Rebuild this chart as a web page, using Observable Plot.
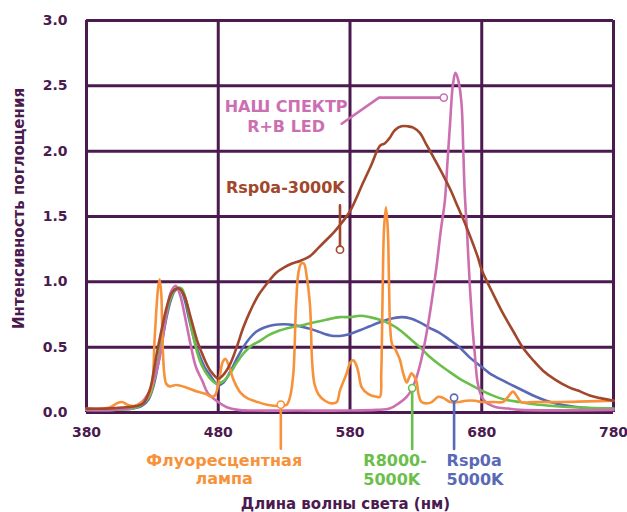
<!DOCTYPE html>
<html><head><meta charset="utf-8">
<script src="https://cdn.jsdelivr.net/npm/d3@7"></script>
<script src="https://cdn.jsdelivr.net/npm/@observablehq/plot@0.6"></script>
<style>body{margin:0;background:#fff}</style>
</head><body><div id="chart"></div>
<script>
const xTicks = [380, 480, 580, 680, 780];
const yTicks = [0, 0.5, 1, 1.5, 2, 2.5, 3];
const xTitle = "Длина волны света (нм)";
const yTitle = "Интенсивность поглощения";

// [wavelength nm, intensity]
const fluorescent = [[380,0.03],[390,0.03],[398,0.04],[403,0.07],[407,0.08],[411,0.06],[416,0.05],[421,0.07],[426,0.11],[429.5,0.2],[431.8,0.58],[434.3,0.95],[435.5,1.02],[436.8,0.9],[437.6,0.58],[439,0.3],[440.5,0.22],[443,0.2],[448,0.21],[456,0.19],[464,0.16],[471,0.14],[475,0.12],[477.5,0.13],[479.5,0.19],[481.5,0.3],[483.5,0.39],[485.5,0.41],[488,0.36],[492,0.24],[497,0.15],[502,0.11],[510,0.08],[517,0.06],[527,0.05],[532,0.06],[534.5,0.12],[537,0.3],[539,0.81],[541,1.08],[543,1.14],[545,1.14],[547,1.05],[549.7,0.81],[551.2,0.4],[553,0.22],[556,0.14],[561,0.09],[566,0.07],[570,0.08],[572.4,0.17],[577.5,0.3],[580,0.38],[582.5,0.4],[584.5,0.37],[586.3,0.31],[589,0.19],[594,0.14],[600,0.12],[602.7,0.12],[603.7,0.3],[604.3,0.6],[604.9,1.0],[605.8,1.4],[607.3,1.57],[608.7,1.4],[609.6,1.0],[610.5,0.65],[612,0.52],[614,0.49],[616,0.45],[618,0.4],[620.4,0.3],[623,0.23],[625,0.27],[626.7,0.3],[628.5,0.28],[630.5,0.24],[632,0.14],[634.3,0.08],[638,0.07],[642,0.08],[647,0.12],[651,0.11],[656,0.08],[662,0.08],[668,0.09],[675,0.09],[680,0.08],[690,0.08],[696,0.08],[700,0.12],[703.7,0.16],[707,0.12],[710,0.08],[720,0.08],[740,0.08],[760,0.085],[780,0.09]];

const rsp3000 = [[380,0.03],[395,0.03],[410,0.04],[418,0.05],[423,0.07],[428,0.17],[433.5,0.46],[438,0.68],[441,0.81],[445,0.92],[450,0.95],[454,0.9],[459,0.73],[464,0.55],[469,0.42],[474,0.32],[480,0.26],[484,0.29],[489,0.37],[494,0.5],[499,0.65],[504,0.77],[510,0.89],[518,1.0],[524,1.07],[530,1.11],[536,1.14],[542,1.16],[550,1.2],[556,1.26],[562,1.32],[567,1.37],[572,1.43],[580,1.54],[590,1.76],[596,1.89],[602.7,2.04],[606.5,2.06],[610,2.1],[614,2.16],[619,2.19],[624,2.19],[628,2.18],[633,2.14],[638,2.05],[643,1.96],[650,1.83],[656,1.71],[662,1.57],[668,1.43],[677,1.19],[680,1.09],[688,0.92],[696,0.76],[704,0.62],[711,0.5],[719,0.4],[726.5,0.32],[736,0.25],[746.7,0.19],[755,0.16],[762,0.13],[770,0.11],[780,0.09]];

const ourLed = [[380,0.02],[400,0.02],[415,0.04],[422,0.08],[429,0.19],[435.5,0.42],[440.6,0.76],[444,0.92],[447.7,0.97],[451,0.9],[455,0.72],[459,0.52],[463,0.35],[468,0.24],[472,0.15],[480,0.08],[486.5,0.04],[495,0.02],[507,0.015],[540,0.015],[580,0.015],[600,0.02],[610,0.03],[617,0.07],[623,0.12],[627,0.18],[630.5,0.27],[634,0.4],[638,0.6],[642,0.85],[645.7,1.12],[649,1.4],[652,1.62],[654,1.92],[656,2.22],[658,2.5],[660,2.6],[662,2.55],[664.6,2.37],[666,2.0],[667,1.7],[669,1.35],[671,0.96],[673,0.65],[674.7,0.45],[677,0.22],[680,0.12],[682,0.09],[686,0.06],[691,0.04],[700,0.03],[709,0.02],[780,0.02]];

const r8000 = [[380,0.02],[400,0.02],[415,0.03],[422,0.06],[428,0.13],[432,0.28],[436,0.5],[440,0.72],[444,0.88],[448,0.95],[452,0.95],[456,0.84],[460,0.63],[464,0.46],[468,0.35],[473,0.27],[479,0.22],[484,0.24],[489,0.3],[494,0.38],[499,0.45],[505,0.51],[512,0.55],[518,0.59],[524.5,0.62],[535,0.65],[544.6,0.67],[553,0.69],[562,0.71],[572,0.73],[580,0.73],[587.6,0.74],[595,0.73],[602.7,0.71],[610,0.68],[618,0.63],[625,0.57],[633,0.5],[640,0.43],[648,0.365],[655,0.315],[663,0.26],[671,0.215],[678.5,0.175],[686,0.14],[697,0.1],[709,0.08],[720,0.063],[734,0.05],[750,0.04],[765,0.035],[780,0.03]];

const rsp5000 = [[380,0.02],[400,0.02],[415,0.03],[422,0.05],[427,0.1],[430.5,0.19],[434,0.35],[438,0.58],[441,0.74],[444,0.86],[447,0.93],[450.7,0.95],[454,0.88],[458,0.71],[462,0.55],[466,0.43],[470,0.34],[473.5,0.29],[480,0.21],[484,0.23],[489,0.31],[494,0.41],[499,0.5],[504,0.57],[509,0.62],[515,0.65],[522,0.67],[530,0.675],[537,0.67],[544,0.655],[550,0.64],[557,0.615],[565,0.59],[570,0.585],[575,0.59],[581,0.605],[587.6,0.63],[595,0.66],[602.7,0.69],[610,0.715],[619,0.73],[626,0.72],[633,0.69],[640,0.65],[648,0.61],[655,0.56],[663,0.5],[671,0.42],[678.5,0.36],[686,0.3],[697,0.24],[709,0.18],[719,0.13],[729,0.09],[738,0.065],[746.7,0.05],[760,0.035],[780,0.03]];

// annotation labels and leader anchors (data coordinates); the last point of each leader carries the circle
const labelText = ["НАШ СПЕКТР\nR+B LED", "Rsp0a-3000K", "Флуоресцентная\nлампа", "R8000-\n5000K", "Rsp0a\n5000K"];
const labelX = [531.5, 530.9, 484.5, 590.1, 653.3];
const labelY = [2.148, 1.677, -0.546, -0.556, -0.556];
const labelAnchor = ["middle", "middle", "middle", "start", "start"];
const labelLineHeight = [1.23, 1.2, 1.13, 1.2, 1.2];
const leaderPink = [[573.7, 2.21], [602, 2.41], [651.2, 2.41]];
const leaderBrown = [[572.4, 1.585], [572.4, 1.246]];
const leaderOrange = [[527.5, -0.277], [527.5, 0.06]];
const leaderGreen = [[627.2, -0.279], [627.2, 0.187]];
const leaderBlue = [[659, -0.279], [659, 0.113]];

const C = {grid: "#4b1a4f", orange: "#f7923a", pink: "#cc6fb1", brown: "#a1472b", green: "#6abf4b", blue: "#5a69b5"};
const labelColor = [C.pink, C.brown, C.orange, C.green, C.blue];

const curve = (data, color) => Plot.line(data, {x: d => d[0], y: d => d[1], stroke: color, strokeWidth: 2.6, curve: "catmull-rom"});
const leader = (data, color) => [
  Plot.line(data, {x: d => d[0], y: d => d[1], stroke: color, strokeWidth: 2.6}),
  Plot.dot([data[data.length - 1]], {x: d => d[0], y: d => d[1], r: 3.6, fill: "white", stroke: color, strokeWidth: 1.6})
];

const labels = labelText.map((t, i) => ({t, x: labelX[i], y: labelY[i], i}));

const chart = Plot.plot({
  width: 627, height: 512,
  marginLeft: 86, marginRight: 14, marginTop: 20, marginBottom: 100,
  style: {fontFamily: "DejaVu Sans", fontWeight: "bold", color: C.grid, background: "white", overflow: "visible"},
  x: {domain: [380, 780]},
  y: {domain: [0, 3]},
  marks: [
    Plot.ruleX(xTicks, {stroke: C.grid, strokeWidth: 3}),
    Plot.ruleY(yTicks, {stroke: C.grid, strokeWidth: 3}),
    Plot.axisX(xTicks, {tickSize: 0, tickPadding: 15, fontSize: 14, fontWeight: "bold", label: null, tickFormat: d => String(d)}),
    Plot.axisY(yTicks, {tickSize: 0, tickPadding: 19, fontSize: 14, fontWeight: "bold", label: null, tickFormat: d3.format(".1f")}),
    Plot.text([yTitle], {frameAnchor: "left", textAnchor: "middle", lineAnchor: "middle", dx: -67.5, dy: -8, rotate: -90, fontSize: 15, fontWeight: "bold", fill: C.grid}),
    Plot.text([xTitle], {frameAnchor: "bottom", textAnchor: "middle", dx: -4.5, dy: 96, lineAnchor: "bottom", fontSize: 15, fontWeight: "bold", fill: C.grid}),
    curve(rsp5000, C.blue),
    curve(r8000, C.green),
    curve(ourLed, C.pink),
    curve(fluorescent, C.orange),
    curve(rsp3000, C.brown),
    ...leader(leaderPink, C.pink),
    ...leader(leaderBrown, C.brown),
    ...leader(leaderOrange, C.orange),
    ...leader(leaderGreen, C.green),
    ...leader(leaderBlue, C.blue),
    ...labels.map(l => Plot.text([l], {x: "x", y: "y", text: "t", fill: labelColor[l.i], fontSize: 16, fontWeight: "bold", textAnchor: labelAnchor[l.i], lineAnchor: "bottom", lineHeight: labelLineHeight[l.i]}))
  ]
});
document.getElementById("chart").append(chart);
</script>
</body></html>
